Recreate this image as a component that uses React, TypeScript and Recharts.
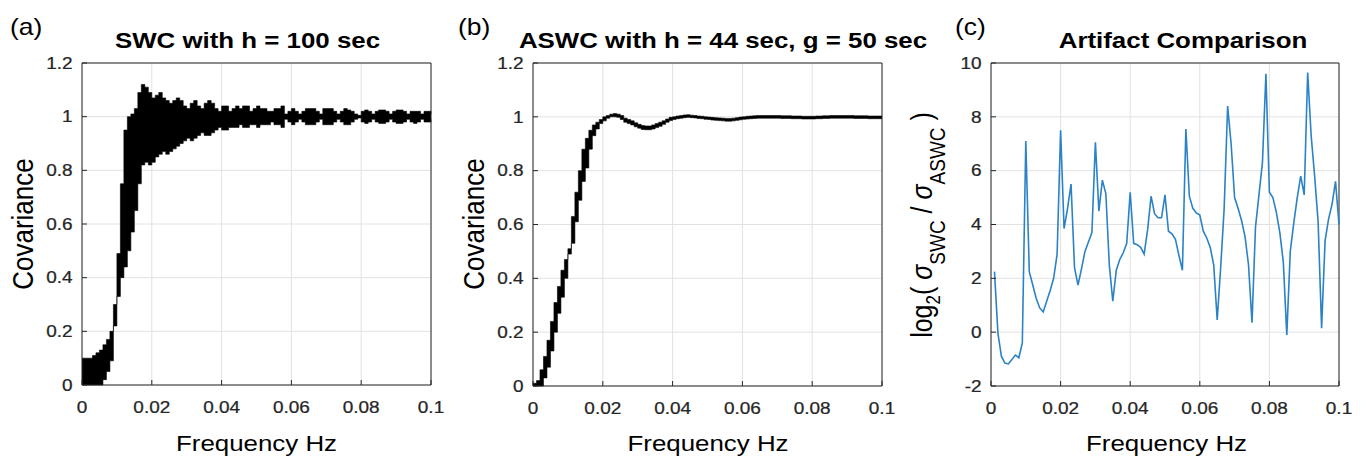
import React from "react";
import { Area, CartesianGrid, ComposedChart, Line, ReferenceLine, XAxis, YAxis } from "recharts";

const FONT = "'Liberation Sans', Arial, Helvetica, sans-serif";
const INK = "#262626";
const GRID = "#e2e2e2";
const BLUE = "#2b82c6";
const SX = 1.15; // the figure's glyphs are stretched sideways

const FREQ = [
  0, 0.001, 0.002, 0.003, 0.004, 0.005, 0.006, 0.007, 0.008, 0.009,
  0.01, 0.011, 0.012, 0.013, 0.014, 0.015, 0.016, 0.017, 0.018, 0.019,
  0.02, 0.021, 0.022, 0.023, 0.024, 0.025, 0.026, 0.027, 0.028, 0.029,
  0.03, 0.031, 0.032, 0.033, 0.034, 0.035, 0.036, 0.037, 0.038, 0.039,
  0.04, 0.041, 0.042, 0.043, 0.044, 0.045, 0.046, 0.047, 0.048, 0.049,
  0.05, 0.051, 0.052, 0.053, 0.054, 0.055, 0.056, 0.057, 0.058, 0.059,
  0.06, 0.061, 0.062, 0.063, 0.064, 0.065, 0.066, 0.067, 0.068, 0.069,
  0.07, 0.071, 0.072, 0.073, 0.074, 0.075, 0.076, 0.077, 0.078, 0.079,
  0.08, 0.081, 0.082, 0.083, 0.084, 0.085, 0.086, 0.087, 0.088, 0.089,
  0.09, 0.091, 0.092, 0.093, 0.094, 0.095, 0.096, 0.097, 0.098, 0.099,
  0.1,
];
const FREQ_TICKS = [0, 0.02, 0.04, 0.06, 0.08, 0.1];
const COV_TICKS = [0, 0.2, 0.4, 0.6, 0.8, 1, 1.2];
const RATIO_TICKS = [-2, 0, 2, 4, 6, 8, 10];

// (a) SWC, h = 100 sec: spread of covariance at each frequency
const SWC_LO = [
  0, 0, 0, 0, 0, 0, 0.02, 0.05, 0.09, 0.22,
  0.33, 0.4, 0.44, 0.5, 0.57, 0.65, 0.75, 0.82, 0.83, 0.82,
  0.83, 0.85, 0.86, 0.87, 0.86, 0.87, 0.88, 0.89, 0.9, 0.91,
  0.92, 0.91, 0.92, 0.93, 0.94, 0.93, 0.93, 0.94, 0.95, 0.96,
  0.95, 0.95, 0.96, 0.96, 0.96, 0.97, 0.96, 0.96, 0.97, 0.97,
  0.96, 0.97, 0.97, 0.97, 0.98, 0.97, 0.97, 0.96, 0.99, 0.98,
  0.97, 0.98, 0.99, 0.98, 0.97, 0.97, 0.97, 0.98, 0.99, 0.97,
  0.97, 0.97, 0.98, 0.99, 0.98, 0.97, 0.97, 0.98, 0.99, 0.995,
  0.98, 0.975, 0.98, 0.99, 0.98, 0.975, 0.975, 0.98, 0.99, 0.98,
  0.975, 0.975, 0.98, 0.99, 0.98, 0.975, 0.98, 0.99, 0.98, 0.98,
  0.99,
];
const SWC_HI = [
  0.1, 0.1, 0.1, 0.11, 0.12, 0.13, 0.15, 0.17, 0.2, 0.3,
  0.49, 0.75, 0.95, 1.0, 1.01, 1.03, 1.09, 1.12, 1.11, 1.09,
  1.07, 1.08, 1.09, 1.07, 1.06, 1.05, 1.06, 1.07, 1.06, 1.04,
  1.03, 1.05, 1.06, 1.04, 1.03, 1.05, 1.06, 1.05, 1.03, 1.02,
  1.04, 1.04, 1.02, 1.03, 1.04, 1.03, 1.04, 1.04, 1.02, 1.03,
  1.04, 1.03, 1.03, 1.02, 1.02, 1.03, 1.03, 1.04, 1.01, 1.02,
  1.03, 1.02, 1.01, 1.02, 1.03, 1.03, 1.03, 1.02, 1.01, 1.03,
  1.03, 1.03, 1.02, 1.01, 1.02, 1.03, 1.025, 1.02, 1.01, 1.005,
  1.02, 1.025, 1.02, 1.01, 1.02, 1.025, 1.025, 1.02, 1.01, 1.02,
  1.025, 1.025, 1.02, 1.01, 1.02, 1.02, 1.02, 1.01, 1.02, 1.02,
  1.01,
];

// (b) ASWC, h = 44 sec, g = 50 sec
const ASWC_LO = [
  0, 0, 0, 0.03, 0.07, 0.13, 0.2, 0.27, 0.33, 0.4,
  0.49, 0.53, 0.61, 0.69, 0.76, 0.81, 0.88, 0.93, 0.955, 0.975,
  0.985, 0.995, 1.0, 1.0, 0.998, 0.99, 0.98, 0.975, 0.97, 0.963,
  0.958, 0.953, 0.952, 0.952, 0.955, 0.96, 0.965, 0.972, 0.98, 0.986,
  0.99, 0.993, 0.995, 0.997, 0.998, 0.997, 0.996, 0.994, 0.993, 0.991,
  0.99, 0.988, 0.987, 0.986, 0.985, 0.984, 0.984, 0.985, 0.987, 0.989,
  0.991, 0.992, 0.993, 0.994, 0.995, 0.995, 0.995, 0.995, 0.995, 0.995,
  0.995, 0.994, 0.994, 0.994, 0.993, 0.993, 0.993, 0.992, 0.992, 0.992,
  0.992, 0.993, 0.993, 0.994, 0.994, 0.995, 0.995, 0.995, 0.995, 0.995,
  0.995, 0.995, 0.994, 0.994, 0.994, 0.994, 0.993, 0.993, 0.993, 0.993,
  0.993,
];
const ASWC_HI = [
  0.01, 0.02, 0.06, 0.11, 0.17, 0.24, 0.31, 0.37, 0.43, 0.47,
  0.51, 0.63, 0.72, 0.8, 0.88, 0.92, 0.95, 0.97, 0.98, 0.99,
  1.0, 1.005, 1.01, 1.012, 1.01, 1.005, 0.995, 0.99, 0.985, 0.978,
  0.972, 0.968, 0.966, 0.966, 0.97, 0.975, 0.98, 0.985, 0.992, 0.998,
  1.0, 1.003, 1.005, 1.007, 1.008, 1.006, 1.005, 1.003, 1.002, 1.0,
  0.999, 0.998, 0.997, 0.996, 0.995, 0.994, 0.994, 0.995, 0.997, 0.999,
  1.0, 1.002, 1.003, 1.004, 1.005, 1.005, 1.005, 1.005, 1.005, 1.005,
  1.005, 1.004, 1.004, 1.004, 1.003, 1.003, 1.003, 1.002, 1.002, 1.002,
  1.002, 1.003, 1.003, 1.004, 1.004, 1.005, 1.005, 1.005, 1.005, 1.005,
  1.005, 1.005, 1.004, 1.004, 1.004, 1.004, 1.003, 1.003, 1.003, 1.003,
  1.003,
];

// (c) log2(sigma_SWC / sigma_ASWC), from 0.001 Hz to 0.1 Hz
const RATIO = [
  2.25, -0.05, -0.9, -1.15, -1.18, -1.02, -0.85, -0.95, -0.4, 7.1,
  2.25, 1.75, 1.25, 0.9, 0.75, 1.15, 1.55, 2.0, 2.9, 7.5,
  3.85, 4.6, 5.5, 2.4, 1.75, 2.35, 3.0, 3.35, 3.7, 7.05,
  4.5, 5.65, 5.15, 2.5, 1.15, 2.3, 2.7, 2.95, 3.3, 5.2,
  3.3, 3.25, 3.15, 2.9, 3.8, 5.05, 4.4, 4.25, 4.25, 5.1,
  3.75, 3.65, 3.45, 2.85, 2.3, 7.55, 5.05, 4.6, 4.43, 4.35,
  3.75, 3.5, 3.15, 2.5, 0.45, 2.4, 4.6, 8.4, 7.0, 5.0,
  4.6, 4.15, 3.55, 2.5, 0.35, 3.9, 5.1, 6.3, 9.6, 5.2,
  5.0, 4.45, 3.7, 2.6, -0.1, 3.0, 4.05, 5.0, 5.8, 5.1,
  9.65, 7.3, 5.8, 4.1, 0.15, 3.4, 4.2, 4.75, 5.6, 4.0,
];

const swcData = FREQ.map((f, i) => ({ f, band: [SWC_LO[i], SWC_HI[i]] }));
const aswcData = FREQ.map((f, i) => ({ f, band: [ASWC_LO[i], ASWC_HI[i]] }));
const ratioData = RATIO.map((r, i) => ({ f: FREQ[i + 1], r }));

const AXIS_LINE = { stroke: INK, strokeWidth: 1 };

function XTick(props: any) {
  const { x, y, payload } = props;
  return (
    <text transform={`translate(${x} ${y + 27.5}) scale(${SX} 1)`} textAnchor="middle"
      fontSize={16.5} fontFamily={FONT} fill={INK} stroke={INK} strokeWidth={0.25}>
      {String(payload.value)}
    </text>
  );
}

function YTick(props: any) {
  const { x, y, payload } = props;
  return (
    <text transform={`translate(${x - 9.5} ${y + 5.8}) scale(${SX} 1)`} textAnchor="end"
      fontSize={16.5} fontFamily={FONT} fill={INK} stroke={INK} strokeWidth={0.25}>
      {String(payload.value)}
    </text>
  );
}

// x-axis title, plus the panel tag and bold title above the plot
function Captions({ cx, tag, tagX, title, titleX }: any) {
  return (
    <g fontFamily={FONT} fill="#000">
      <text transform={`translate(${cx} 451) scale(${SX} 1)`} textAnchor="middle"
        fontSize={22.5}>Frequency Hz</text>
      <text transform={`translate(${tagX} 35) scale(${SX} 1)`} fontSize={23}>{tag}</text>
      <text transform={`translate(${titleX} 48) scale(${SX} 1)`} textAnchor="middle"
        fontSize={22.5} fontWeight="bold">{title}</text>
    </g>
  );
}

function CovTitle({ bx }: any) {
  return (
    <text transform={`translate(${bx} 224) scale(${SX} 1) rotate(-90)`} textAnchor="middle"
      fontSize={26} fontFamily={FONT} fill="#000">Covariance</text>
  );
}

function RatioTitle() {
  return (
    <text transform={`translate(32 225) scale(${SX} 1) rotate(-90)`} textAnchor="middle"
      fontSize={25} fontFamily={FONT} fill="#000">
      log<tspan fontSize={17} dy={7}>2</tspan>
      <tspan dy={-7}>{"( "}</tspan>
      <tspan fontStyle="italic">σ</tspan>
      <tspan fontSize={19} dy={11}>SWC</tspan>
      <tspan dy={-11}>{" / "}</tspan>
      <tspan fontStyle="italic">σ</tspan>
      <tspan fontSize={19} dy={11}>ASWC</tspan>
      <tspan dy={-11}>{" )"}</tspan>
    </text>
  );
}

// grid, boxed axes and labels shared by the three panels
function frame(o: {
  yDomain: number[]; yTicks: number[]; yWidth: number; xHeight: number;
  captions: React.ReactElement; yTitle: React.ReactElement;
}) {
  return [
    <CartesianGrid key="grid" stroke={GRID} />,
    <XAxis key="x" dataKey="f" type="number" domain={[0, 0.1]} ticks={FREQ_TICKS} interval={0}
      height={o.xHeight} axisLine={AXIS_LINE} tickLine={AXIS_LINE} tickSize={-5} tickMargin={5}
      tick={<XTick />} label={o.captions} />,
    <YAxis key="y" type="number" domain={o.yDomain} ticks={o.yTicks} interval={0}
      width={o.yWidth} axisLine={AXIS_LINE} tickLine={AXIS_LINE} tickSize={-5} tickMargin={5}
      tick={<YTick />} label={o.yTitle} />,
    <ReferenceLine key="top" y={o.yDomain[1]} stroke={INK} strokeWidth={1} ifOverflow="visible" />,
    <ReferenceLine key="right" x={0.1} stroke={INK} strokeWidth={1} ifOverflow="visible" />,
  ];
}

export default function App() {
  return (
    <div style={{ position: "absolute", left: 0, top: 0, width: 1362, height: 458, background: "#fff" }}>
      <div style={{ position: "absolute", left: 0, top: 0 }}>
        <ComposedChart width={460} height={458} data={swcData}
          margin={{ top: 63, right: 29, bottom: 0, left: 0 }}>
          {frame({
            yDomain: [0, 1.2], yTicks: COV_TICKS, yWidth: 82, xHeight: 73,
            captions: <Captions cx={256.5} tag="(a)" tagX={10} title="SWC with h = 100 sec" titleX={247.5} />,
            yTitle: <CovTitle bx={33} />,
          })}
          <Area dataKey="band" type="stepAfter" stroke="#000" strokeWidth={0.6} fill="#000"
            fillOpacity={1} dot={false} activeDot={false} isAnimationActive={false} />
        </ComposedChart>
      </div>
      <div style={{ position: "absolute", left: 450, top: 0 }}>
        <ComposedChart width={490} height={458} data={aswcData}
          margin={{ top: 63, right: 58, bottom: 0, left: 0 }}>
          {frame({
            yDomain: [0, 1.2], yTicks: COV_TICKS, yWidth: 83, xHeight: 72,
            captions: <Captions cx={258} tag="(b)" tagX={8} title="ASWC with h = 44 sec, g = 50 sec" titleX={273} />,
            yTitle: <CovTitle bx={34} />,
          })}
          <Area dataKey="band" type="stepAfter" stroke="#000" strokeWidth={0.6} fill="#000"
            fillOpacity={1} dot={false} activeDot={false} isAnimationActive={false} />
        </ComposedChart>
      </div>
      <div style={{ position: "absolute", left: 900, top: 0 }}>
        <ComposedChart width={462} height={458} data={ratioData}
          margin={{ top: 63, right: 23, bottom: 0, left: 0 }}>
          {frame({
            yDomain: [-2, 10], yTicks: RATIO_TICKS, yWidth: 91, xHeight: 72,
            captions: <Captions cx={266.5} tag="(c)" tagX={55} title="Artifact Comparison" titleX={283} />,
            yTitle: <RatioTitle />,
          })}
          <Line dataKey="r" type="linear" stroke={BLUE} strokeWidth={1.6} dot={false}
            activeDot={false} isAnimationActive={false} />
        </ComposedChart>
      </div>
    </div>
  );
}
